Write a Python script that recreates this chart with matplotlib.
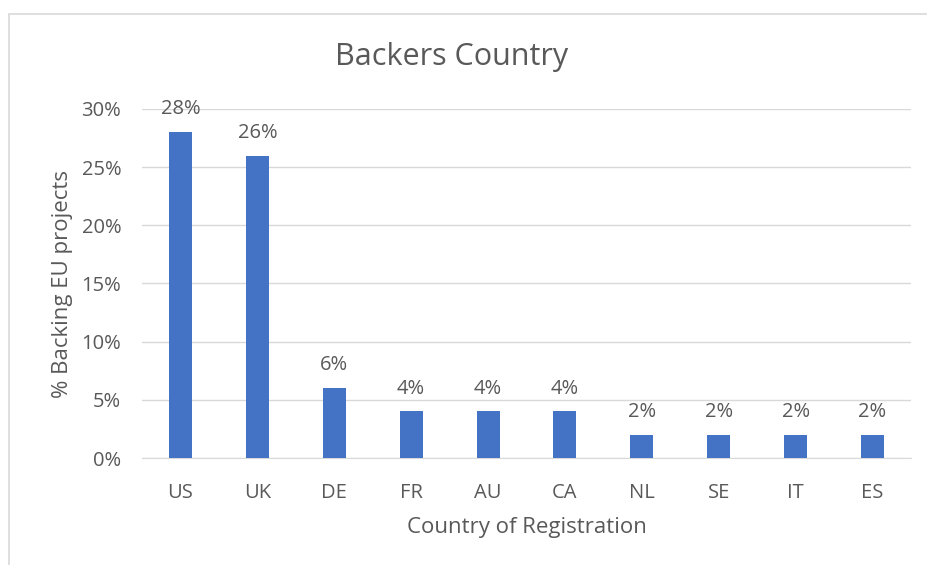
import matplotlib
matplotlib.use("Agg")
import matplotlib.pyplot as plt
from matplotlib.ticker import FuncFormatter, MultipleLocator
from matplotlib.patches import Rectangle

categories = ["US", "UK", "DE", "FR", "AU", "CA", "NL", "SE", "IT", "ES"]
values = [0.28, 0.26, 0.06, 0.04, 0.04, 0.04, 0.02, 0.02, 0.02, 0.02]
value_labels = ["28%", "26%", "6%", "4%", "4%", "4%", "2%", "2%", "2%", "2%"]

plt.rcParams['font.family'] = ['Open Sans', 'DejaVu Sans']
text_color = "#595959"

fig = plt.figure(figsize=(9.28, 5.65), dpi=100)
fig.patch.set_facecolor("white")
# chart area border
fig.patches.append(Rectangle((9/928, -0.1), 1.2, 1 - 14/565 + 0.1, transform=fig.transFigure,
                             fill=False, edgecolor="#d9d9d9", linewidth=1.2))

ax = fig.add_axes([142/928, 1 - 458/565, (911 - 142)/928, (458 - 109)/565])
x = range(len(categories))
ax.bar(x, values, width=0.3, color="#4472C4", zorder=3)
for xi, v, lab in zip(x, values, value_labels):
    ax.text(xi, v + 0.011, lab, ha="center", va="bottom", fontsize=14.5, color=text_color)

ax.set_xlim(-0.5, len(categories) - 0.5)
ax.set_ylim(0, 0.30)
ax.yaxis.set_major_locator(MultipleLocator(0.05))
ax.yaxis.set_major_formatter(FuncFormatter(lambda v, p: f"{v*100:.0f}%"))
ax.grid(axis="y", color="#d9d9d9", linewidth=1, zorder=0)
for s in ["top", "right", "left"]:
    ax.spines[s].set_visible(False)
ax.spines["bottom"].set_color("#d9d9d9")
ax.set_xticks(list(x))
ax.set_xticklabels(categories)
ax.tick_params(axis="both", length=0, labelsize=14.5, labelcolor=text_color)
ax.tick_params(axis="x", pad=18)
ax.tick_params(axis="y", pad=15)

ax.set_ylabel("% Backing EU projects", fontsize=16, color=text_color, labelpad=6)
ax.set_xlabel("Country of Registration", fontsize=16, color=text_color, labelpad=10)
fig.text(452/928, 1 - 57/565, "Backers Country", ha="center", va="center", fontsize=22, color=text_color)

fig.savefig("out.png", dpi=100, facecolor="white")
